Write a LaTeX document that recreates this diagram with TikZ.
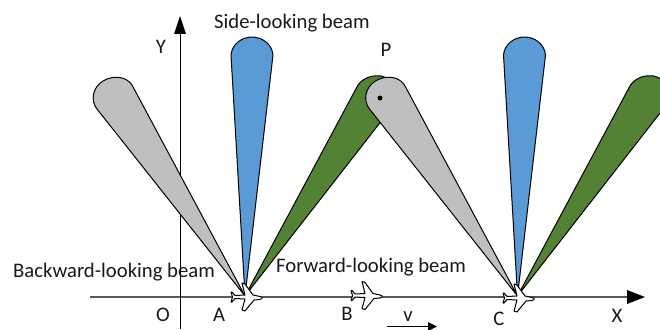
\documentclass[tikz,border=0pt]{standalone}
\usepackage{fontspec}
\setmainfont{Carlito}
\definecolor{beamgray}{HTML}{BFBFBF}
\definecolor{beamblue}{HTML}{5B9BD5}
\definecolor{beamgreen}{HTML}{548235}
\definecolor{axisgray}{HTML}{595959}
\tikzset{
  beam/.style={draw=black,line width=1pt,line join=round},
  lbl/.style={inner sep=0pt,font=\fontsize{20.7}{24}\selectfont,text=black!90},
  planeshape/.style={draw=black,fill=white,line width=1pt,line join=round},
}
\newcommand{\grayBeam}{(245,296) -- (97,109) .. controls (90,100) and (93,87) .. (103,81) .. controls (113,75) and (126,76) .. (132,85) -- cycle}
\newcommand{\blueBeam}{(245,296) -- (231,55) .. controls (232,44) and (242,37) .. (252,37) .. controls (262,37) and (272,44) .. (273,55) -- cycle}
\newcommand{\greenBeam}{(245,296) -- (358,85) .. controls (364,77) and (373,75) .. (381,76) .. controls (391,78) and (399,87) .. (400,97) -- cycle}
\newcommand{\planeShape}{(0,-1.5) -- (-3,-5) -- (-4,-5) -- (-2.5,0) -- (-4,5) -- (-3,5) -- (0,1.5) -- (10,2) -- (7,13) -- (10,14) -- (19,3) -- (25,2.5) .. controls (28,1.5) and (28,0) .. (25,-0.5) -- (18,-2) -- (10,-13) -- (7,-14) -- (10,-2) -- cycle}
\begin{document}
\begin{tikzpicture}[x=1pt,y=-1pt]
\useasboundingbox (0,0) rectangle (660,329);
\clip (0,0) rectangle (660,329);
% axes
\coordinate (xs) at (90,297); \coordinate (xe) at (645,297);
\coordinate (ys) at (180,329); \coordinate (ye) at (180,16);
\coordinate (vs) at (387,326.5); \coordinate (ve) at (437,326.5);
\draw[axisgray,line width=1.3pt] (xs) -- (627,297);
\fill[black] (xe) -- (627,290) -- (627,304) -- cycle;
\draw[black,line width=0.9pt] (ys) -- (180,30);
\fill[black] (ye) -- (174,34) -- (186,34) -- cycle;
% beams at A
\filldraw[beam,fill=beamblue] \blueBeam;
\filldraw[beam,fill=beamgreen] \greenBeam;
\filldraw[beam,fill=beamgray] \grayBeam;
% beams at C
\begin{scope}[shift={(272.5,0)}]
\filldraw[beam,fill=beamblue] \blueBeam;
\filldraw[beam,fill=beamgreen] \greenBeam;
\filldraw[beam,fill=beamgray] \grayBeam;
\end{scope}
\fill[black] (380,98) circle (2.5pt);
% planes
\filldraw[planeshape,shift={(235,297)}] \planeShape;
\filldraw[planeshape,shift={(355,295.5)}] \planeShape;
\filldraw[planeshape,shift={(507,298)}] \planeShape;
% v arrow
\draw[black,line width=0.9pt] (vs) -- (428,326.5);
\fill[black] (ve) -- (428,322) -- (428,331) -- cycle;
% labels
\node[lbl,anchor=west] (side) at (214,23) {Side-looking beam};
\node[lbl,anchor=west] (back) at (13,272) {Backward-looking beam};
\node[lbl,anchor=west] (fwd) at (276,267) {Forward-looking beam};
\node[lbl] (Y) at (161,47) {Y};
\node[lbl] (P) at (386,50) {P};
\node[lbl] (O) at (163,315) {O};
\node[lbl] (A) at (219,315) {A};
\node[lbl] (B) at (347,314) {B};
\node[lbl] (C) at (499,319) {C};
\node[lbl] (X) at (617,316) {X};
\node[lbl] (v) at (408,317) {v};
\end{tikzpicture}
\end{document}
